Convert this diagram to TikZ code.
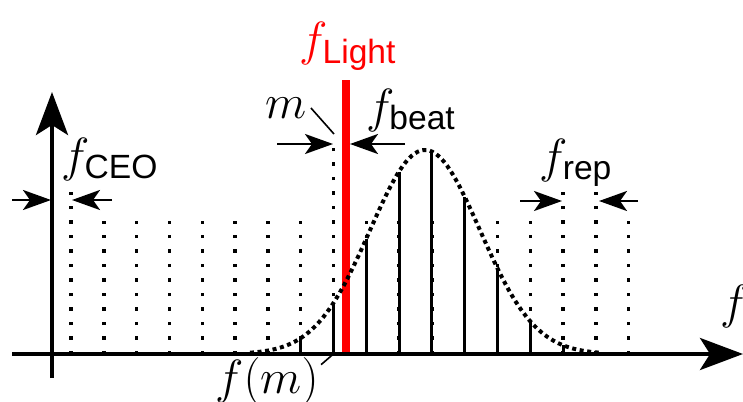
\RequirePackage{fix-cm}
\documentclass[tikz,border=0pt]{standalone}
\usepackage{amsmath}
\usepackage{fontspec}
\setsansfont{Liberation Sans}
\usetikzlibrary{arrows.meta}
\definecolor{cLight}{HTML}{FF0000}

\begin{document}
\begin{tikzpicture}[x=0.5pt, y=-0.5pt,
  declare function={env(\x)=204*exp(-0.5*((\x-425)/55)^2);},
  axis/.style={line width=2pt, -{Stealth[length=21.5pt, width=16pt, inset=5pt]}},
  dim/.style={line width=1.3pt, -{Stealth[length=14pt, width=10pt, inset=3.5pt]}},
  comb/.style={line width=1.7pt, dash pattern=on 1.7pt off 5.55pt},
  tooth/.style={line width=1.5pt},
  gauss/.style={line width=2pt, dash pattern=on 2pt off 1.8pt},
  lead/.style={line width=0.8pt},
  light/.style={cLight, line width=4pt},
  lbl/.style={inner sep=0pt, font=\fontsize{24}{28}\selectfont}]
\useasboundingbox (0,0) rectangle (743,401);

% comb positions on the axis
\foreach \k in {0,...,17} \coordinate (b\k) at ({71+32.8*\k},354);

% dotted comb lines
\foreach \k/\h in {0/192, 1/221, 2/221, 3/221, 4/221, 5/221, 6/221, 7/221, 8/138,
                   9/221, 10/221, 11/221, 12/221, 13/221, 14/221, 15/192, 16/192, 17/221}
  \draw[comb] (b\k) -- ++(0,{\h-354});

% teeth under the envelope
\foreach \k in {7,...,15} \draw[tooth] (b\k) -- ++(0,{-env(71+32.8*\k)});

% the laser line
\coordinate (lbot) at (346,354);
\coordinate (ltop) at (346,80);
\draw[light] (lbot) -- (ltop);

% envelope
\draw[gauss] plot[domain=250:600, samples=120] (\x, {354-env(\x)});

% axes
\coordinate (xs) at (12,354);
\coordinate (xe) at (743,354);
\coordinate (ys) at (52,378);
\coordinate (ye) at (52,92);
\draw[axis] (xs) -- (xe);
\draw[axis] (ys) -- (ye);

% labels
\node[lbl, text=cLight] (fl) at (348,46) {$f_{\textsf{Light}}$};
\node[lbl] (m) at (286,108) {$m$};
\node[lbl] (fb) at (411,110) {$f_{\textsf{beat}}$};
\node[lbl] (fceo) at (110,159) {$f_{\textsf{CEO}}$};
\node[lbl] (frep) at (576,163) {$f_{\textsf{rep}}$};
\node[lbl] (fm) at (267,381) {$f(m)$};
\node[lbl] (f) at (735,306) {$f$};

% spacing arrows
\coordinate (ceoL) at (12,200);
\coordinate (ceoA) at (51,200);
\coordinate (ceoR) at (112,200);
\coordinate (ceoB) at (72,200);
\draw[dim] (ceoL) -- (ceoA);
\draw[dim] (ceoR) -- (ceoB);
\coordinate (beatL) at (277,144);
\coordinate (beatA) at (333,144);
\coordinate (beatR) at (405,144);
\coordinate (beatB) at (350,144);
\draw[dim] (beatL) -- (beatA);
\draw[dim] (beatR) -- (beatB);
\coordinate (repL) at (520,201);
\coordinate (repA) at (562,201);
\coordinate (repR) at (638,201);
\coordinate (repB) at (599,201);
\draw[dim] (repL) -- (repA);
\draw[dim] (repR) -- (repB);

% leaders
\coordinate (mtip) at (334,134);
\draw[lead] ([xshift=2pt]m.east) -- (mtip);
\draw[lead] ([xshift=1pt, yshift=-4pt]fm.north east) -- (b8);
\end{tikzpicture}
\end{document}
